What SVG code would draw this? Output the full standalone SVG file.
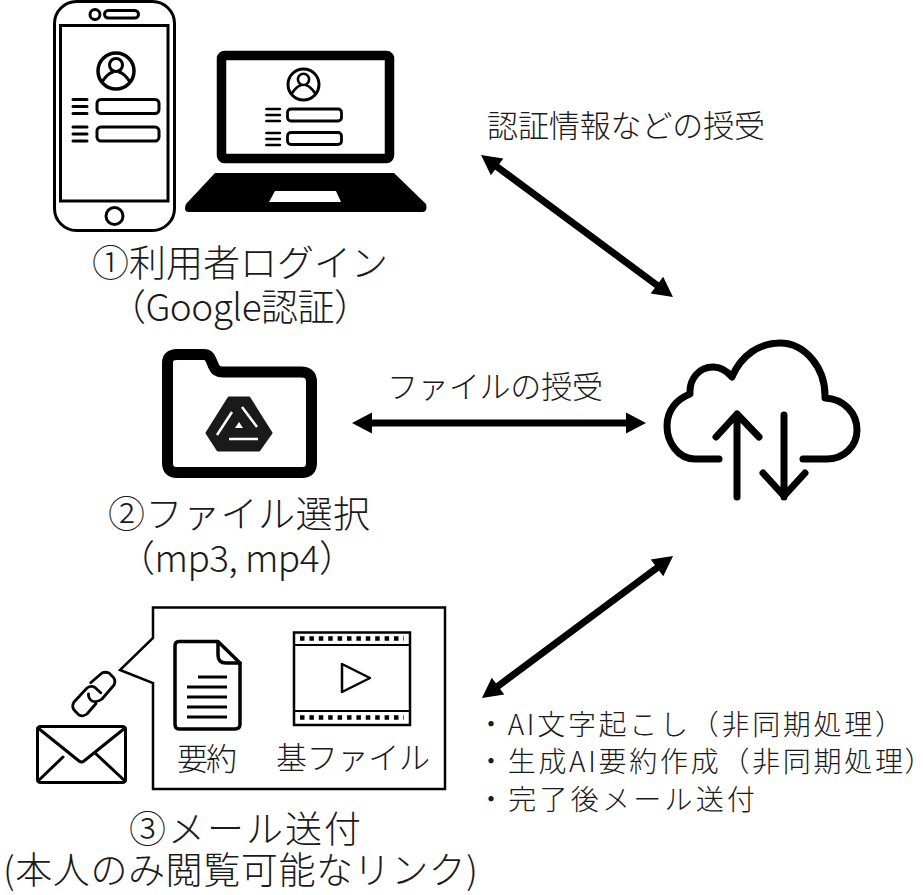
<svg xmlns="http://www.w3.org/2000/svg" width="923" height="895" viewBox="0 0 923 895">
<style>
text{font-family:"Noto Sans CJK JP","Noto Sans",sans-serif;font-weight:300;fill:#1a1a1a}
.big{font-size:37px}.mid{font-size:31px}.sm{font-size:28px}
.o{fill:none;stroke:#000;stroke-linecap:round;stroke-linejoin:round}
.s3{stroke-width:2.800px}
.conn{stroke:#000;stroke-width:7px;fill:none;marker-start:url(#head);marker-end:url(#head)}
</style>
<defs>
<marker id="head" markerUnits="userSpaceOnUse" markerWidth="24" markerHeight="24" viewBox="-1 -12 24 24" refX="1" refY="0" orient="auto-start-reverse"><path d="M0,-10.5L20,0L0,10.5z" fill="#000"/></marker>
<g id="avatar"><circle class="o" r="18" cx="0" cy="0" stroke-width="3.5"/><circle class="o" cx="0" cy="-6" r="6.5" stroke-width="3"/><path class="o" stroke-width="3" d="M-14,11Q-8,2 -3,1M14,11Q8,2 3,1"/></g>
<g id="form-lines"><path class="o" stroke-width="3" d="M0,0H14M0,7H14M0,14H14"/></g>
</defs>
<rect width="923" height="895" fill="#fff"/>
<g id="connectors">
<path class="conn" d="M496.3,166.3L657.7,285.7"/>
<path class="conn" d="M371,423H627"/>
<path class="conn" d="M497.2,686.7L657.8,567.3"/>
</g>
<g id="node-login">
<rect class="o" x="54.500" y="1.500" width="120" height="229" rx="22" stroke-width="3"/>
<circle class="o" cx="95" cy="14.500" r="5" stroke-width="3"/>
<rect class="o" x="104.500" y="10.500" width="34" height="7.500" rx="3.700" stroke-width="3"/>
<rect x="60.500" y="25.500" width="107.500" height="175.500" fill="none" stroke="#000" stroke-width="3"/>
<circle class="o" cx="114.500" cy="216" r="8.500" stroke-width="3"/>
<use href="#avatar" transform="translate(116,71)"/>
<use href="#form-lines" transform="translate(73,99.500)"/>
<use href="#form-lines" transform="translate(73,127)"/>
<rect class="o" x="97" y="99.500" width="62" height="14" rx="4" stroke-width="3"/>
<rect class="o" x="97" y="127" width="62" height="14" rx="4" stroke-width="3"/>
<rect x="221.500" y="55.500" width="168" height="103" rx="3" fill="#fff" stroke="#000" stroke-width="9.500"/>
<use href="#avatar" transform="translate(303.500,84.500) scale(.86)"/>
<use href="#form-lines" transform="translate(266.500,109) scale(.95,.85)"/>
<use href="#form-lines" transform="translate(266.500,133) scale(.95,.85)"/>
<rect class="o" x="287.500" y="109" width="54" height="12" rx="3.500" stroke-width="2.800"/>
<rect class="o" x="287.500" y="132.500" width="54" height="12" rx="3.500" stroke-width="2.800"/>
<path d="M215,173H394L426,204Q428,212 422,212H189Q183,212 186,204z M275,191L269,202H341L336,191z" fill="#000" fill-rule="evenodd"/>
<text class="big" x="92" y="277" textLength="296">①利用者ログイン</text>
<text class="big" x="109" y="321" textLength="262">（Google認証）</text>
</g>
<g id="node-file">
<path class="o" stroke-width="11" d="M167.500,363Q167.500,354.500 177,354.500H204Q209,354.500 211,360L214,367Q216,372 223,372H301Q311.500,372 311.500,382V463Q311.500,472.500 302,472.500H177Q167.500,472.500 167.500,463z"/>
<path d="M229,398H249L271,433L259,450H218L207,433z" fill="#1a1a1a" stroke="#1a1a1a" stroke-width="3" stroke-linejoin="round"/>
<path d="M242,407L257,427M232,412L217,435M229,439H258" stroke="#fff" stroke-width="2.500" fill="none"/>
<path d="M239,422L235,428H243z" fill="#fff"/>
<text class="big" x="108" y="528" textLength="262">②ファイル選択</text>
<text class="big" x="118" y="572" textLength="238">（mp3, mp4）</text>
</g>
<g id="node-cloud">
<path class="o" stroke-width="7" d="M719,459H695C678,459 667,442 667,426C667,410 677,399 690,394C689,378 700,367 713,367C721,367 727,371 732,377C741,355 760,343 780,343C805,343 826,368 825,398C844,399 857,413 857,430C857,447 843,459 827,459H803"/>
<path class="o" stroke-width="7" d="M737,497V414M716,437L737,414L759,437M784,415V497M763,473L784,496L805,473"/>
</g>
<g id="node-mail">
<path d="M153,638V607.500H445V789H153V683L120,670z" fill="#fff" stroke="#000" stroke-width="2.500"/>
<path class="o" stroke-width="3.500" d="M179,641.500H218L240,663V724Q240,729 235,729H179Q175,729 175,724V646Q175,641.500 179,641.500z"/>
<path class="o" stroke-width="3.500" d="M218,642V655Q218,663 226,663H240"/>
<path fill="none" stroke="#000" stroke-width="3" d="M198,677H227M187,687H227M187,697H227M187,707H227M187,717H227"/>
<rect x="294" y="632.500" width="116" height="92.500" fill="none" stroke="#000" stroke-width="2.500"/>
<path d="M294,645H410M294,711H410" fill="none" stroke="#000" stroke-width="2"/>
<path d="M300,638.500H404M300,717.500H404" fill="none" stroke="#000" stroke-width="4.500" stroke-dasharray="4.500 4.900"/>
<path class="o" stroke-width="2.500" d="M342,664L370,678L342,692z"/>
<text class="mid" x="177" y="770" textLength="60">要約</text>
<text class="mid" x="276" y="769" textLength="154">基ファイル</text>
<path class="o s3" d="M100.700,692.700L95,687.500Q91,685 87,688L74,702Q71,707 75,711L79,715Q83,717 87,714L96,703.500"/>
<path class="o s3" d="M90.700,682.700L102,673Q105,671.500 109,673L113.500,677.500Q116,681 114,685L102,699Q97,703 92,701Q88,698 88.500,694"/>
<rect class="o" x="37.500" y="726.500" width="88" height="56" rx="3" stroke-width="3"/>
<path class="o" stroke-width="3" d="M38,728L79,761Q81.500,763 84,761L125,728M63,757L38,781M95,753L125,781"/>
<text class="big" x="129" y="843" textLength="232">③メール送付</text>
<text class="big" x="3" y="884" textLength="475">(本人のみ閲覧可能なリンク)</text>
</g>
<g id="labels">
<text class="mid" x="487" y="137" textLength="278">認証情報などの授受</text>
<text class="mid" x="387" y="398" textLength="216">ファイルの授受</text>
<text class="sm" x="477" y="735" textLength="426">・AI文字起こし（非同期処理）</text>
<text class="sm" x="477" y="772" letter-spacing="2.700">・生成AI要約作成（非同期処理<tspan style="font-feature-settings:'palt'">）</tspan></text>
<text class="sm" x="477" y="810" textLength="278">・完了後メール送付</text>
</g>
</svg>
